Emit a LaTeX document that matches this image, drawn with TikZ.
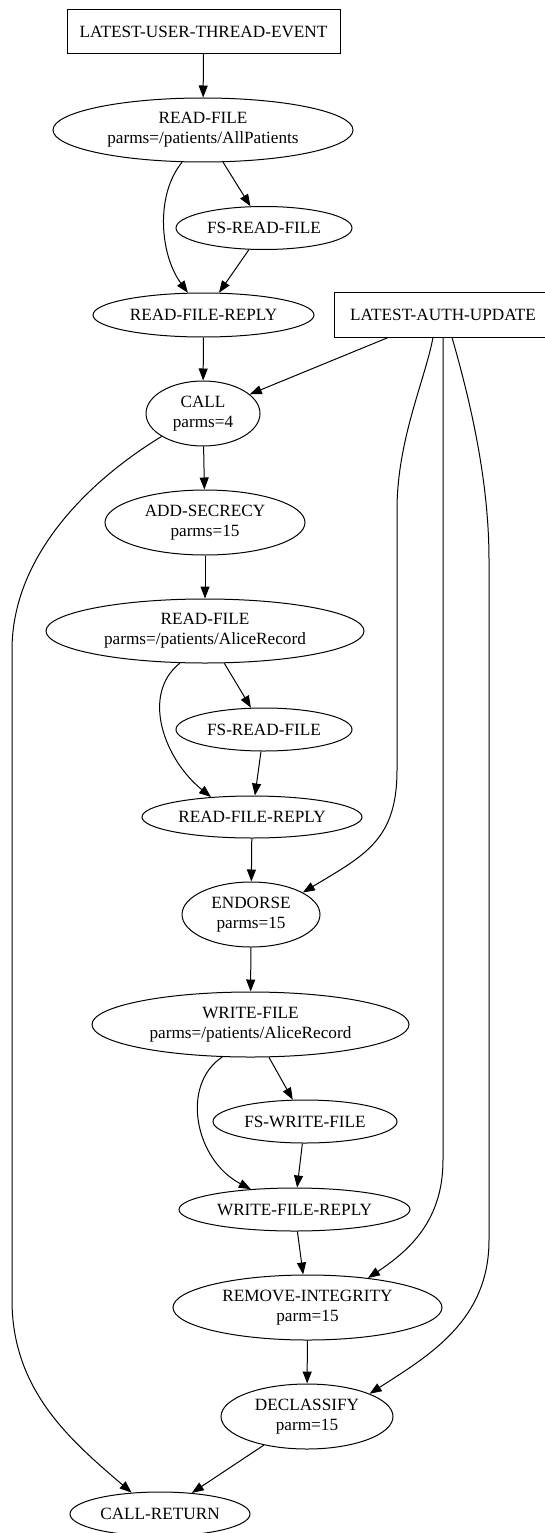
\documentclass[tikz,border=0pt]{standalone}
\usepackage{fontspec}
\setmainfont{Liberation Serif}
\usetikzlibrary{shapes.geometric,arrows.meta,calc}
\tikzset{
  lbl/.style={font=\fontsize{17.2}{20}\selectfont, align=center, inner sep=0pt, line width=1pt},
  ell/.style={lbl, ellipse, draw},
  rbox/.style={lbl, rectangle, draw},
  edge/.style={line width=1pt, -{Triangle[length=12pt,width=9pt]}},
}
\begin{document}
\begin{tikzpicture}[x=1pt,y=-1pt]
\useasboundingbox (0,0) rectangle (545,1533);
% nodes
\node[rbox, minimum width=273pt, minimum height=44pt] (lute) at (203.5,31.5) {LATEST-USER-THREAD-EVENT};
\node[ell, minimum width=300pt, minimum height=64pt] (rf1) at (203,130) {READ-FILE\\parms=/patients/AllPatients};
\node[ell, minimum width=176pt, minimum height=43pt] (fsrf1) at (264,228) {FS-READ-FILE};
\node[ell, minimum width=221pt, minimum height=44pt] (rfr1) at (203.5,315) {READ-FILE-REPLY};
\node[lbl, rectangle, minimum width=216pt, minimum height=44pt] (auth) at (443,315) {LATEST-AUTH-UPDATE};
\draw[line width=1pt] (auth.north west) rectangle ([xshift=25pt]auth.south east);
\node[ell, minimum width=114pt, minimum height=65pt] (call) at (203,413.5) {CALL\\parms=4};
\node[ell, minimum width=200pt, minimum height=65pt] (adds) at (205,522.5) {ADD-SECRECY\\parms=15};
\node[ell, minimum width=318pt, minimum height=64pt] (rf2) at (205,631) {READ-FILE\\parms=/patients/AliceRecord};
\node[ell, minimum width=176pt, minimum height=43pt] (fsrf2) at (264,729.5) {FS-READ-FILE};
\node[ell, minimum width=220pt, minimum height=42pt] (rfr2) at (252,817) {READ-FILE-REPLY};
\node[ell, minimum width=138pt, minimum height=65pt] (endorse) at (251,914.5) {ENDORSE\\parms=15};
\node[ell, minimum width=317pt, minimum height=65pt] (wf) at (250.5,1024.5) {WRITE-FILE\\parms=/patients/AliceRecord};
\node[ell, minimum width=184pt, minimum height=43pt] (fswf) at (305,1121.5) {FS-WRITE-FILE};
\node[ell, minimum width=231pt, minimum height=43pt] (wfr) at (294.5,1209.5) {WRITE-FILE-REPLY};
\node[ell, minimum width=269pt, minimum height=65pt] (ri) at (307.5,1307.5) {REMOVE-INTEGRITY\\parm=15};
\node[ell, minimum width=172pt, minimum height=65pt] (decl) at (307,1416.5) {DECLASSIFY\\parm=15};
\node[ell, minimum width=180pt, minimum height=44pt] (cr) at (160,1514) {CALL-RETURN};
% straight edges
\draw[edge] (lute) -- (rf1);
\draw[edge] (rf1) -- (fsrf1);
\draw[edge] (fsrf1) -- (rfr1);
\draw[edge] (rfr1) -- (call);
\draw[edge] (auth) -- (call);
\draw[edge] (call) -- (adds);
\draw[edge] (adds) -- (rf2);
\draw[edge] (rf2) -- (fsrf2);
\draw[edge] (fsrf2) -- (rfr2);
\draw[edge] (rfr2) -- (endorse);
\draw[edge] (endorse) -- (wf);
\draw[edge] (wf) -- (fswf);
\draw[edge] (fswf) -- (wfr);
\draw[edge] (wfr) -- (ri);
\draw[edge] (ri) -- (decl);
\draw[edge] (decl) -- (cr);
% curved edges
\draw[edge] (rf1.237) .. controls (155,195) and (160,255) .. (rfr1.125);
\draw[edge] (rf2.232) .. controls (140,695) and (165,760) .. (rfr2.154);
\draw[edge] (wf.229) .. controls (180,1085) and (195,1160) .. (wfr.155);
\draw[edge] ([xshift=-10pt]auth.south) .. controls (425,380) and (397,440) .. (397,510)
  -- (397,770) .. controls (397,840) and (365,855) .. (endorse.23);
\draw[edge] (auth.south) -- (443,1160) .. controls (443,1220) and (410,1250) .. (ri.26);
\draw[edge] ([xshift=9pt]auth.south) .. controls (470,400) and (489,480) .. (489,560)
  -- (489,1240) .. controls (489,1320) and (430,1355) .. (decl.20);
\draw[edge] (call.209) .. controls (90,480) and (12,555) .. (12,650)
  -- (12,1300) .. controls (12,1390) and (70,1440) .. (cr.143);
\end{tikzpicture}
\end{document}
